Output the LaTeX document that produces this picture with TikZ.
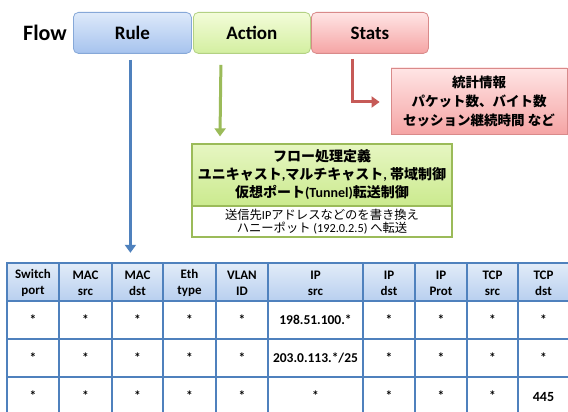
\documentclass[tikz,border=0pt]{standalone}
\usepackage{fontspec}
\setmainfont{Carlito}
\newfontfamily\jp{Noto Sans CJK JP}
\usetikzlibrary{arrows.meta,calc}
\definecolor{ruleT}{HTML}{DDE9FA}
\definecolor{ruleB}{HTML}{A6C3EE}
\definecolor{ruleD}{HTML}{86A8D8}
\definecolor{actT}{HTML}{F3FCD9}
\definecolor{actB}{HTML}{D3EFA0}
\definecolor{actD}{HTML}{B3D183}
\definecolor{statT}{HTML}{FFE5E5}
\definecolor{statB}{HTML}{F5A4A4}
\definecolor{statD}{HTML}{D98A8A}
\definecolor{gboxT}{HTML}{E6F6C2}
\definecolor{gboxB}{HTML}{CBEA8E}
\definecolor{gline}{HTML}{9BBB59}
\definecolor{bline}{HTML}{4F81BD}
\definecolor{rline}{HTML}{C65A57}
\definecolor{hdrT}{HTML}{E2ECF8}
\definecolor{hdrB}{HTML}{B8CFEF}
\definecolor{gridc}{HTML}{4F81BD}
\begin{document}
\begin{tikzpicture}[x=1pt,y=-1pt,
  flowbox/.style={rounded corners=5pt,line width=0.8pt,anchor=north west,
    minimum height=41pt,inner sep=0pt,font=\fontsize{19}{22}\selectfont\bfseries},
  jpbox/.style={inner sep=0pt,align=center},
  arr/.style={line width=3pt,-{Triangle[width=11pt,length=8pt]}},
  hdr/.style={align=center,font=\fontsize{13}{16}\selectfont\bfseries},
  cell/.style={font=\fontsize{13.5}{16}\selectfont\bfseries},
  gridl/.style={draw=gridc,line width=2pt}
]
\useasboundingbox (0,0) rectangle (568,412);
\fill[white] (0,0) rectangle (568,412);

% top flow boxes
\node[font=\fontsize{22}{24}\selectfont\bfseries] (flow) at (45,33) {Flow};
\node[flowbox,top color=ruleT,bottom color=ruleB,draw=ruleD,minimum width=118pt] (rule) at (73,12) {Rule};
\node[flowbox,top color=actT,bottom color=actB,draw=actD,minimum width=117pt] (action) at (193,12) {Action};
\node[flowbox,top color=statT,bottom color=statB,draw=statD,minimum width=117pt] (stats) at (311,12) {Stats};

% stats box
\node[jpbox,draw=statD,line width=0.8pt,top color=statT,bottom color=statB,
  minimum width=176pt,minimum height=66pt,
  font=\fontsize{13.5}{19}\selectfont\jp\bfseries] (statbox) at (479,101)
  {統計情報\\パケット数、バイト数\\セッション継続時間 など};

% action boxes
\node[jpbox,draw=gline,line width=1.2pt,top color=gboxT,bottom color=gboxB,
  minimum width=260pt,minimum height=62pt,
  font=\fontsize{14}{18}\selectfont\jp\bfseries] (gbox) at (322,175)
  {フロー処理定義\\ユニキャスト{\rmfamily,}マルチキャスト{\rmfamily,} 帯域制御\\仮想ポート{\rmfamily(Tunnel)}転送制御};
\node[jpbox,draw=gline,line width=1.2pt,fill=white,
  minimum width=260pt,minimum height=31pt,
  font=\fontsize{12.3}{13.5}\selectfont\jp] (wbox) at (322,221.5)
  {送信先{\rmfamily IP}アドレスなどのを書き換え\\ハニーポット {\rmfamily (192.0.2.5)} へ転送};

% table
\shade[top color=hdrT,bottom color=hdrB] (7,263) rectangle (569,301);
\foreach[count=\i] \a/\b/\t in {7/59/{Switch\\port},59/112/{MAC\\src},112/163/{MAC\\dst},
    163/216/{Eth\\type},216/268/{VLAN\\ID},268/363/{IP\\src},363/415/{IP\\dst},
    415/467/{IP\\Prot},467/518/{TCP\\src},518/569/{TCP\\dst}}
  \node[hdr] (h\i) at ({(\a+\b)/2},283) {\t};
\foreach[count=\i] \a/\b/\t in {7/59/*,59/112/*,112/163/*,163/216/*,216/268/*,268/363/{198.51.100.*},
    363/415/*,415/467/*,467/518/*,518/569/*}
  \node[cell] (ra\i) at ({(\a+\b)/2},320) {\t};
\foreach[count=\i] \a/\b/\t in {7/59/*,59/112/*,112/163/*,163/216/*,216/268/*,268/363/{203.0.113.*/25},
    363/415/*,415/467/*,467/518/*,518/569/*}
  \node[cell] (rb\i) at ({(\a+\b)/2},358) {\t};
\foreach[count=\i] \a/\b/\t in {7/59/*,59/112/*,112/163/*,163/216/*,216/268/*,268/363/*,
    363/415/*,415/467/*,467/518/*}
  \node[cell] (rc\i) at ({(\a+\b)/2},396) {\t};
\node[cell,font=\fontsize{14}{16}\selectfont\bfseries] (rc10) at (543.5,397) {445};
\draw[gridl] (7,263) rectangle (569,416);
\foreach \x in {59,112,163,216,268,363,415,467,518} \draw[gridl] (\x,263) -- (\x,416);
\foreach \y in {301,339,377} \draw[gridl] (7,\y) -- (569,\y);

% connectors
\draw[arr,draw=bline] ($(rule.south)+(-2,6)$) -- ($(rule.south)+(-2,199)$);
\draw[arr,draw=gline] ($(action.south)+(-31,11)$) -- ($(gbox.north)+(-102,-7)$);
\draw[arr,draw=rline] ($(stats.south)+(-17,5)$) |- ($(statbox.west)+(-11,1)$);
\end{tikzpicture}
\end{document}
